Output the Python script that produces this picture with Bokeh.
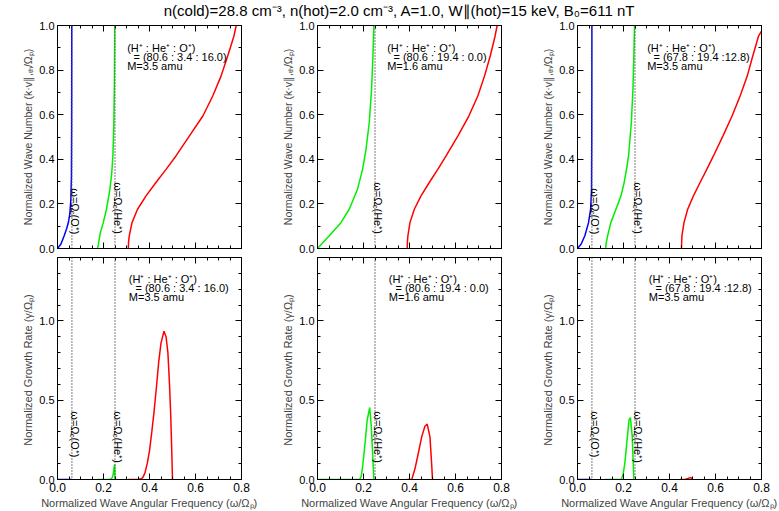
import math
from bokeh.plotting import figure
from bokeh.models import (Label, LinearAxis, SingleIntervalTicker, PrintfTickFormatter,
                          Range1d, Span)
from bokeh.layouts import column, row
from bokeh.embed import file_html
from bokeh.resources import INLINE

FONT = "Liberation Sans"

TITLE = "n(cold)=28.8 cm⁻³, n(hot)=2.0 cm⁻³, A=1.0, W∥(hot)=15 keV, B₀=611 nT"
XLABEL = "Normalized Wave Angular Frequency (ω/Ωₚ)"
YLABEL_K = "Normalized Wave Number (k·v∥,ₜₕ/Ωₚ)"
YLABEL_G = "Normalized Growth Rate  (γ/Ωₚ)"

# cyclotron frequencies (normalized to proton)
OMEGA_O = 1.0 / 16.0
OMEGA_HE = 1.0 / 4.0

# compositions (H+ : He+ : O+) and mean mass
comp_a = "= (80.6 : 3.4 : 16.0)"
comp_c = "= (80.6 : 19.4 : 0.0)"
comp_e = "= (67.8 : 19.4 :12.8)"
mass_a = "M=3.5 amu"
mass_c = "M=1.6 amu"
mass_e = "M=3.5 amu"

# ---------------- dispersion (top row) ----------------
a_blue_w = [0.0, 0.015, 0.029, 0.040, 0.048, 0.054, 0.058, 0.0605, 0.0615, 0.062]
a_blue_k = [0.0, 0.02, 0.057, 0.09, 0.12, 0.16, 0.22, 0.32, 0.55, 1.0]
a_green_w = [0.174, 0.178, 0.186, 0.199, 0.213, 0.228, 0.236, 0.241, 0.245, 0.2475, 0.249]
a_green_k = [0.0, 0.02, 0.07, 0.116, 0.176, 0.266, 0.34, 0.42, 0.56, 0.75, 1.0]
a_red_w = [0.308, 0.309, 0.312, 0.324, 0.348, 0.385, 0.428, 0.472, 0.515, 0.573, 0.632,
           0.675, 0.711, 0.740, 0.767, 0.777]
a_red_k = [0.0, 0.03, 0.057, 0.116, 0.176, 0.236, 0.296, 0.355, 0.415, 0.504, 0.594,
           0.684, 0.773, 0.863, 0.952, 1.0]

c_green_w = [0.0, 0.051, 0.102, 0.138, 0.174, 0.196, 0.211, 0.225, 0.235, 0.241, 0.245]
c_green_k = [0.0, 0.057, 0.116, 0.176, 0.266, 0.355, 0.445, 0.564, 0.713, 0.863, 1.0]
c_red_w = [0.39, 0.391, 0.393, 0.402, 0.421, 0.45, 0.486, 0.523, 0.559, 0.61, 0.658,
           0.697, 0.726, 0.751, 0.772, 0.781]
c_red_k = [0.0, 0.03, 0.057, 0.116, 0.176, 0.236, 0.296, 0.355, 0.415, 0.504, 0.594,
           0.684, 0.773, 0.863, 0.952, 1.0]

e_blue_w = [0.0, 0.016, 0.032, 0.048, 0.057, 0.061, 0.062, 0.0625]
e_blue_k = [0.0, 0.02, 0.057, 0.116, 0.176, 0.266, 0.5, 1.0]
e_green_w = [0.123, 0.124, 0.131, 0.145, 0.167, 0.189, 0.203, 0.213, 0.222, 0.234,
             0.241, 0.245, 0.248]
e_green_k = [0.0, 0.02, 0.057, 0.116, 0.176, 0.236, 0.296, 0.355, 0.415, 0.564,
             0.713, 0.863, 1.0]
e_red_w = [0.452, 0.453, 0.454, 0.463, 0.479, 0.504, 0.533, 0.562, 0.591, 0.632, 0.672,
           0.707, 0.738, 0.762, 0.787, 0.8]
e_red_k = [0.0, 0.03, 0.057, 0.116, 0.176, 0.236, 0.296, 0.355, 0.415, 0.504, 0.594,
           0.684, 0.773, 0.863, 0.952, 0.975]

# ---------------- growth rate (bottom row), units of 1e-3 ----------------
b_blue_w = [0.0, 0.0625]
b_blue_g = [0.0, 0.0]
b_green_w = [0.174, 0.225, 0.235, 0.240, 0.244, 0.247, 0.249, 0.25]
b_green_g = [0.0, 0.0, 0.005, 0.02, 0.05, 0.085, 0.094, 0.0]
b_red_w = [0.308, 0.355, 0.37, 0.38, 0.39, 0.40, 0.41, 0.42, 0.43, 0.44, 0.45, 0.463,
           0.472, 0.48, 0.487, 0.492, 0.496, 0.5]
b_red_g = [0.0, 0.0, 0.01, 0.04, 0.10, 0.18, 0.30, 0.43, 0.58, 0.74, 0.86, 0.935,
           0.90, 0.80, 0.60, 0.42, 0.22, 0.0]

d_green_w = [0.0, 0.183, 0.19, 0.197, 0.208, 0.216, 0.227, 0.234, 0.241, 0.245]
d_green_g = [0.0, 0.0, 0.02, 0.09, 0.248, 0.374, 0.454, 0.332, 0.122, 0.0]
d_red_w = [0.387, 0.41, 0.424, 0.438, 0.453, 0.467, 0.477, 0.489, 0.497, 0.5]
d_red_g = [0.0, 0.0, 0.069, 0.164, 0.269, 0.336, 0.349, 0.269, 0.08, 0.0]

f_blue_w = [0.0, 0.0625]
f_blue_g = [0.0, 0.0]
f_green_w = [0.119, 0.19, 0.198, 0.206, 0.217, 0.224, 0.23, 0.238, 0.245]
f_green_g = [0.0, 0.0, 0.03, 0.105, 0.272, 0.377, 0.39, 0.272, 0.0]
f_red_w = [0.445, 0.47, 0.48, 0.49, 0.495, 0.5]
f_red_g = [0.0, 0.002, 0.006, 0.012, 0.01, 0.0]

BLUE = "#0000ff"
GREEN = "#00ee00"
RED = "#ff0000"


def style_axis(ax, labels, size="11px"):
    ax.axis_line_color = "black"
    ax.major_tick_in = 6
    ax.major_tick_out = 0
    ax.minor_tick_in = 3
    ax.minor_tick_out = 0
    ax.major_tick_line_color = "black"
    ax.minor_tick_line_color = "black"
    if labels:
        ax.major_label_text_font = FONT
        ax.major_label_text_font_size = size
        ax.major_label_text_color = "black"
        ax.major_label_standoff = 3
        ax.formatter = PrintfTickFormatter(format="%.1f")
    else:
        ax.major_label_text_font_size = "1px"
        ax.major_label_text_color = None
        ax.major_label_standoff = 0


def make_panel(width, height, top, bottom, ymax, yint, yminor, bottom_row, ylabel, ylabel_size):
    p = figure(width=width, height=height, x_range=Range1d(0, 0.8), y_range=Range1d(0, ymax),
               output_backend="svg", toolbar_location=None,
               x_axis_type=None, y_axis_type=None,
               min_border_left=57, min_border_right=width - 57 - 184,
               min_border_top=top, min_border_bottom=bottom)
    p.outline_line_color = "black"
    p.border_fill_alpha = 0
    p.grid.visible = False
    xt = lambda: SingleIntervalTicker(interval=0.2, num_minor_ticks=4)
    yt = lambda: SingleIntervalTicker(interval=yint, num_minor_ticks=yminor)

    xb = LinearAxis(ticker=xt())
    style_axis(xb, bottom_row, "12px")
    if bottom_row:
        xb.axis_label = XLABEL
        xb.axis_label_text_font = FONT
        xb.axis_label_text_font_size = "11px"
        xb.axis_label_text_font_style = "normal"
        xb.axis_label_standoff = 2
    p.add_layout(xb, "below")
    xa = LinearAxis(ticker=xt())
    style_axis(xa, False)
    p.add_layout(xa, "above")

    yl = LinearAxis(ticker=yt())
    style_axis(yl, True, "11px")
    yl.axis_label = ylabel
    yl.axis_label_text_font = FONT
    yl.axis_label_text_font_size = ylabel_size
    yl.axis_label_text_font_style = "normal"
    yl.axis_label_standoff = 2
    p.add_layout(yl, "left")
    yr = LinearAxis(ticker=yt())
    style_axis(yr, False)
    p.add_layout(yr, "right")
    return p


def letter(p, txt, ymax):
    p.add_layout(Label(x=0, y=ymax, x_offset=-52, y_offset=-15, text=txt,
                       text_font=FONT, text_font_style="bold", text_font_size="15px",
                       text_align="left", text_baseline="alphabetic"))


def cyc_line(p, x):
    p.add_layout(Span(location=x, dimension="height", line_color="#555555",
                      line_dash="1 2", line_width=1.5))


def cyc_label(p, x, ytop, ion):
    pieces = [("ω=Ω", "11px", 3, 0.0), ("c", "7.5px", 0.5, 22.4), ("(" + ion + "⁺)", "11px", 3, 26.2)]
    for txt, size, xo, along in pieces:
        p.add_layout(Label(x=x, y=ytop, x_offset=xo, y_offset=-along, text=txt, angle=-math.pi / 2,
                           text_font=FONT, text_font_size=size, text_color="black",
                           text_align="left", text_baseline="alphabetic"))


def comp_text(p, lines):
    for (xx, yy, txt) in lines:
        p.add_layout(Label(x=xx, y=yy, text=txt, text_font=FONT, text_font_size="11px",
                           text_align="left", text_baseline="alphabetic", text_color="black"))


def exp_label(p, ymax):
    p.add_layout(Label(x=0, y=ymax, x_offset=-36, y_offset=-12, text="[×10⁻³]",
                       text_font=FONT, text_font_size="10px", text_align="left",
                       text_baseline="alphabetic"))


TITLE_H, TOP_H, BOT_H = 20, 235, 256
widths = [260, 260, 259]

# ---------------- top row ----------------
pa = make_panel(widths[0], TOP_H, 5, 7, 1.0, 0.2, 2, False, YLABEL_K, "10.5px")
pc = make_panel(widths[1], TOP_H, 5, 7, 1.0, 0.2, 2, False, YLABEL_K, "10.5px")
pe = make_panel(widths[2], TOP_H, 5, 7, 1.0, 0.2, 2, False, YLABEL_K, "10.5px")

pa.line(a_blue_w, a_blue_k, color=BLUE, line_width=1.5)
pa.line(a_green_w, a_green_k, color=GREEN, line_width=1.5)
pa.line(a_red_w, a_red_k, color=RED, line_width=1.5)
pc.line(c_green_w, c_green_k, color=GREEN, line_width=1.5)
pc.line(c_red_w, c_red_k, color=RED, line_width=1.5)
pe.line(e_blue_w, e_blue_k, color=BLUE, line_width=1.5)
pe.line(e_green_w, e_green_k, color=GREEN, line_width=1.5)
pe.line(e_red_w, e_red_k, color=RED, line_width=1.5)

# ---------------- bottom row ----------------
pb = make_panel(widths[0], BOT_H, 2, 31, 1.4, 0.5, 5, True, YLABEL_G, "11px")
pd = make_panel(widths[1], BOT_H, 2, 31, 1.4, 0.5, 5, True, YLABEL_G, "11px")
pf = make_panel(widths[2], BOT_H, 2, 31, 1.4, 0.5, 5, True, YLABEL_G, "11px")

pb.line(b_blue_w, b_blue_g, color=BLUE, line_width=1.5)
pb.line(b_green_w, b_green_g, color=GREEN, line_width=1.5)
pb.line(b_red_w, b_red_g, color=RED, line_width=1.5)
pd.line(d_green_w, d_green_g, color=GREEN, line_width=1.5)
pd.line(d_red_w, d_red_g, color=RED, line_width=1.5)
pf.line(f_blue_w, f_blue_g, color=BLUE, line_width=1.5)
pf.line(f_green_w, f_green_g, color=GREEN, line_width=1.5)
pf.line(f_red_w, f_red_g, color=RED, line_width=1.5)

# cyclotron lines and labels
for p, has_o in [(pa, True), (pc, False), (pe, True)]:
    if has_o:
        cyc_line(p, OMEGA_O)
        cyc_label(p, OMEGA_O, 0.27, "O")
    cyc_line(p, OMEGA_HE)
    cyc_label(p, OMEGA_HE, 0.297, "He")
for p, has_o in [(pb, True), (pd, False), (pf, True)]:
    if has_o:
        cyc_line(p, OMEGA_O)
        cyc_label(p, OMEGA_O, 0.43, "O")
    cyc_line(p, OMEGA_HE)
    cyc_label(p, OMEGA_HE, 0.43, "He")

HEAD = "(H⁺ : He⁺ : O⁺)"
for p, comp, mass in [(pa, comp_a, mass_a), (pc, comp_c, mass_c), (pe, comp_e, mass_e)]:
    comp_text(p, [(0.303, 0.899, HEAD), (0.33, 0.859, comp), (0.303, 0.818, mass)])
for p, comp, mass in [(pb, comp_a, mass_a), (pd, comp_c, mass_c), (pf, comp_e, mass_e)]:
    comp_text(p, [(0.31, 1.265, HEAD), (0.339, 1.208, comp), (0.31, 1.154, mass)])
    exp_label(p, 1.4)

for p, t in [(pa, "a"), (pc, "c"), (pe, "e")]:
    letter(p, t, 1.0)
for p, t in [(pb, "b"), (pd, "d"), (pf, "f")]:
    letter(p, t, 1.4)

# ---------------- title ----------------
tf = figure(width=779, height=TITLE_H, x_range=Range1d(0, 779), y_range=Range1d(0, TITLE_H),
            output_backend="svg", toolbar_location=None, x_axis_type=None, y_axis_type=None,
            min_border=0)
tf.outline_line_color = None
tf.grid.visible = False
tf.border_fill_alpha = 0
tf.background_fill_alpha = 0
tf.add_layout(Label(x=399, y=10, text=TITLE, text_font=FONT, text_font_size="15px",
                    text_align="center", text_baseline="middle", text_color="black"))

top_row = row(pa, pc, pe)
bot_row = row(pb, pd, pf)
root = column(tf, top_row, bot_row, margin=0)

open("out.html", "w").write(file_html(root, INLINE))
